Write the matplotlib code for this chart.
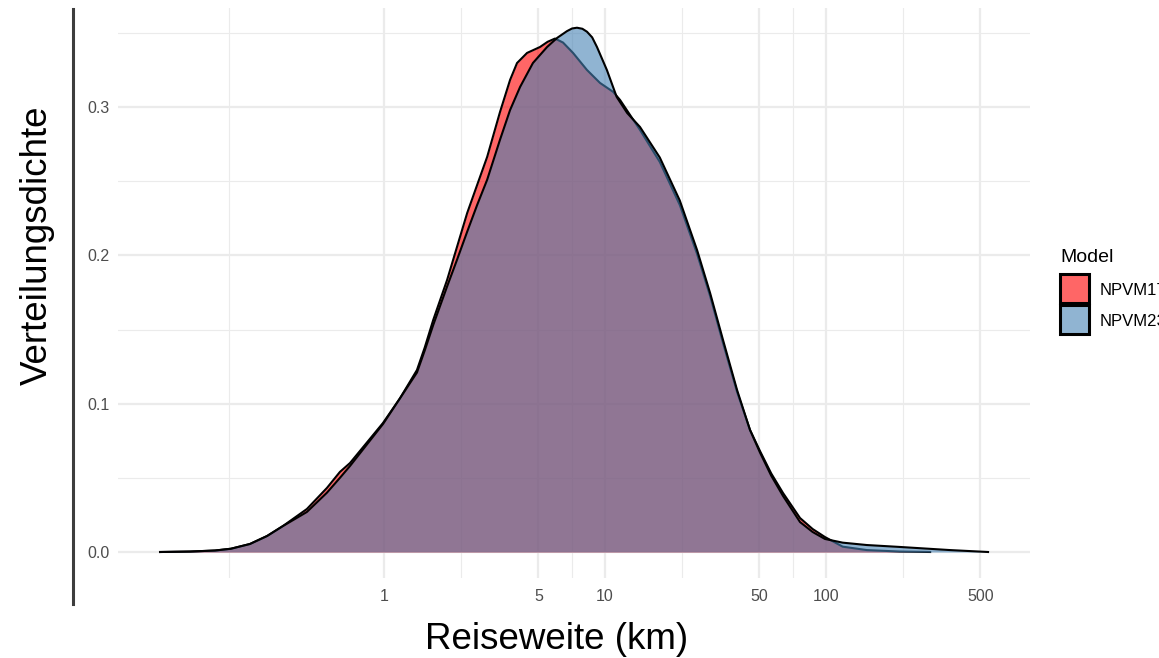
import matplotlib
matplotlib.use('Agg')
import matplotlib.pyplot as plt
from matplotlib.patches import Rectangle
from matplotlib.lines import Line2D
import numpy as np

plt.rcParams['font.family'] = ['Liberation Sans', 'DejaVu Sans']

# Density of trip length per model
km_17 = [0.097, 0.1325, 0.172, 0.203, 0.2475, 0.296, 0.349, 0.448, 0.552, 0.632,
         0.702, 0.99, 1.18, 1.41, 1.53, 1.67, 1.93, 2.14, 2.38, 2.64, 2.93, 3.35,
         3.72, 4.0, 4.44, 5.08, 5.5, 5.94, 6.46, 7.17, 8.29, 9.49, 10.9, 11.7,
         14.4, 17.7, 21.8, 26.1, 29.9, 34.2, 39.6, 45.3, 50.3, 56.5, 63.9, 76.3,
         87.0, 98.9, 119, 153, 216, 296]
dens_17 = [0.0, 0.0003, 0.0010, 0.0022, 0.0054, 0.0108, 0.0175, 0.0290, 0.0432, 0.054,
           0.060, 0.087, 0.1035, 0.1227, 0.138, 0.1564, 0.1834, 0.2057, 0.2286, 0.2475,
           0.2664, 0.2967, 0.3183, 0.3297, 0.3365, 0.3405, 0.3440, 0.3462, 0.3435, 0.3365,
           0.325, 0.3163, 0.3102, 0.3048, 0.2846, 0.263, 0.234, 0.201, 0.1726, 0.1409,
           0.1079, 0.0823, 0.0680, 0.0530, 0.0398, 0.0229, 0.0155, 0.0101, 0.0036, 0.0013,
           0.0003, 0.0]

km_23 = [0.097, 0.1325, 0.172, 0.203, 0.2475, 0.296, 0.349, 0.448, 0.552, 0.632,
         0.702, 0.99, 1.18, 1.41, 1.53, 1.67, 1.93, 2.14, 2.38, 2.64, 2.93, 3.35,
         3.72, 4.13, 4.72, 5.47, 6.07, 6.73, 7.1, 7.47, 7.9, 8.29, 8.75, 9.2, 10.2,
         11.3, 12.6, 14.4, 17.7, 21.8, 26.1, 29.9, 34.2, 39.6, 45.3, 50.3, 56.5,
         63.9, 76.3, 87.0, 98.9, 119, 153, 216, 364, 541]
dens_23 = [0.0, 0.0003, 0.0010, 0.0022, 0.0054, 0.0108, 0.0175, 0.0270, 0.0400, 0.050,
           0.0580, 0.0863, 0.1035, 0.121, 0.136, 0.153, 0.179, 0.197, 0.216, 0.234,
           0.251, 0.278, 0.298, 0.3136, 0.3297, 0.3405, 0.3466, 0.3512, 0.3530, 0.3535,
           0.3528, 0.3508, 0.347, 0.3405, 0.325, 0.3068, 0.296, 0.2866, 0.266, 0.237,
           0.2036, 0.1746, 0.143, 0.1092, 0.0823, 0.0670, 0.0515, 0.0378, 0.0202, 0.0135,
           0.0088, 0.0063, 0.0047, 0.0034, 0.0013, 0.0]

models = ['NPVM17', 'NPVM23']
fills = ['red', 'steelblue']
key_colors = ['#FF6666', '#90B4D2']

x_breaks = [1, 5, 10, 50, 100, 500]
x_labels = ['1', '5', '10', '50', '100', '500']
y_breaks = [0.0, 0.1, 0.2, 0.3]
y_labels = ['0.0', '0.1', '0.2', '0.3']

W, H = 1159, 658
fig = plt.figure(figsize=(W / 100, H / 100), dpi=100)
ax = fig.add_axes([118 / W, 80 / H, 912 / W, 570 / H])

for i, (km, dens) in enumerate([(km_17, dens_17), (km_23, dens_23)]):
    ax.fill_between(km, dens, 0, color=fills[i], alpha=0.6, lw=0, zorder=2 + i)
    ax.plot(km, dens, color='black', lw=1.5, zorder=2.5 + i, solid_joinstyle='round')

ax.set_xscale('log')
ax.set_xlim(0.0626, 837.6)
ax.set_ylim(-0.01753, 0.3668)

# grid like ggplot theme_minimal: minor lines halfway (log space) between breaks
ax.set_xticks(x_breaks)
ax.set_xticklabels(x_labels)
lb = np.log10(x_breaks)
x_minor = [10 ** (lb[0] - (lb[1] - lb[0]))] + list(10 ** ((lb[:-1] + lb[1:]) / 2))
ax.set_xticks(x_minor, minor=True)
ax.set_xticklabels([], minor=True)
ax.set_yticks(y_breaks)
ax.set_yticklabels(y_labels)
ax.set_yticks([0.05, 0.15, 0.25, 0.35], minor=True)
ax.grid(which='major', color='#EBEBEB', lw=1.6, zorder=0)
ax.grid(which='minor', color='#EBEBEB', lw=0.8, zorder=0)
ax.set_axisbelow(True)
for s in ax.spines.values():
    s.set_visible(False)
ax.tick_params(which='both', length=0)
ax.tick_params(axis='x', pad=8, labelsize=11.5, labelcolor='#4D4D4D')
ax.tick_params(axis='y', pad=6, labelsize=11.5, labelcolor='#4D4D4D')

fig.text(557 / W, 1 - 649 / H, 'Reiseweite (km)', ha='center', va='baseline', fontsize=26.5)
fig.text(37 / W, 1 - 245.5 / H, 'Verteilungsdichte', ha='center', va='center',
         rotation=90, fontsize=26.5)

fig.add_artist(Line2D([73 / W, 73 / W], [1 - 9 / H, 1 - 604 / H], color='#3d3d3d', lw=2.2))

# legend, laid out like the ggplot guide
fig.text(1060 / W, 1 - 262 / H, 'Model', ha='left', va='baseline', fontsize=14)
for i, name in enumerate(models):
    top = 273 + 31 * i
    fig.add_artist(Rectangle((1060 / W, 1 - (top + 30) / H), 29 / W, 29 / H,
                             transform=fig.transFigure, facecolor=key_colors[i],
                             edgecolor='black', lw=2.2))
    fig.text(1100 / W, 1 - (top + 22) / H, name, ha='left', va='baseline', fontsize=12)

fig.savefig('out.png', dpi=100)
